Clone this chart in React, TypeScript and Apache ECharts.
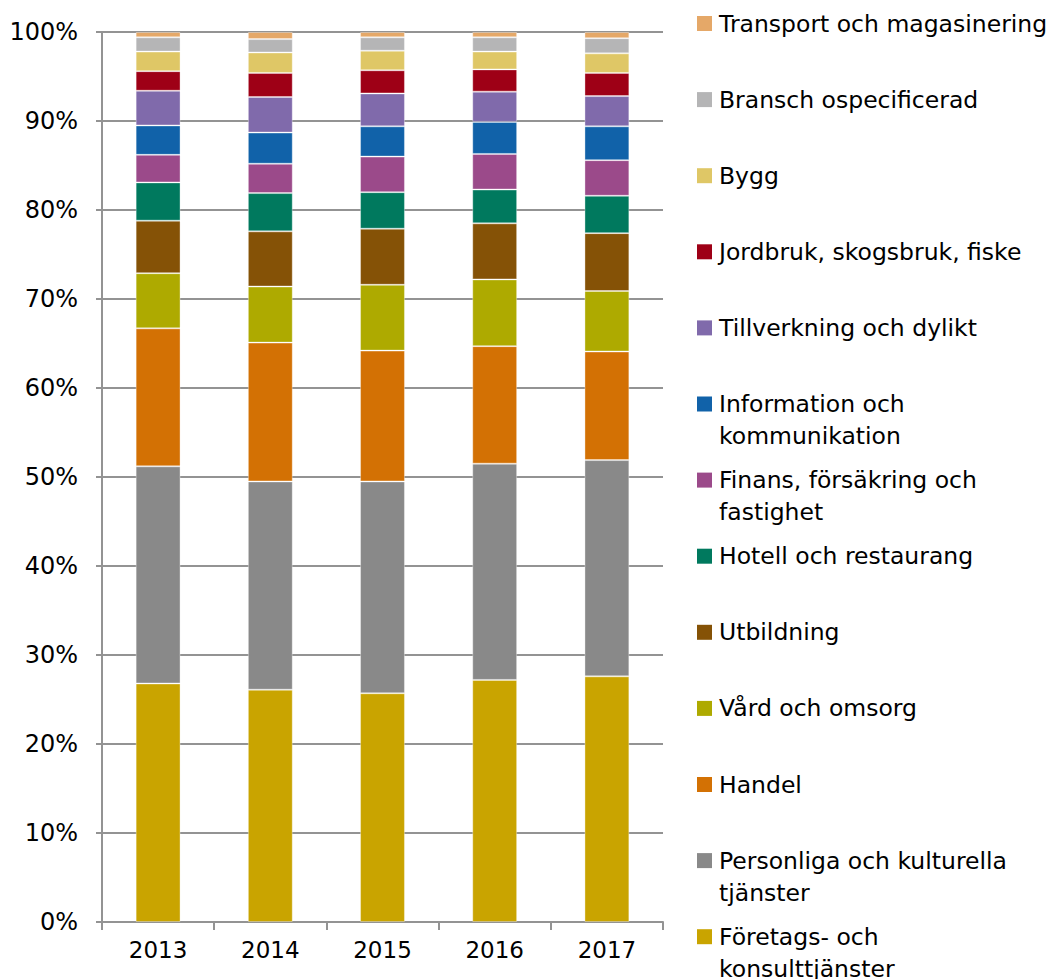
import React, { useEffect, useRef } from "react";
import * as echarts from "echarts";

// Categories
const years = ["2013", "2014", "2015", "2016", "2017"];

// Series (stacking order, bottom first)
const seriesNames = [
  "Företags- och konsulttjänster",
  "Personliga och kulturella tjänster",
  "Handel",
  "Vård och omsorg",
  "Utbildning",
  "Hotell och restaurang",
  "Finans, försäkring och fastighet",
  "Information och kommunikation",
  "Tillverkning och dylikt",
  "Jordbruk, skogsbruk, fiske",
  "Bygg",
  "Bransch ospecificerad",
  "Transport och magasinering",
];

const legendLabels = [
  "Företags- och\nkonsulttjänster",
  "Personliga och kulturella\ntjänster",
  "Handel",
  "Vård och omsorg",
  "Utbildning",
  "Hotell och restaurang",
  "Finans, försäkring och\nfastighet",
  "Information och\nkommunikation",
  "Tillverkning och dylikt",
  "Jordbruk, skogsbruk, fiske",
  "Bygg",
  "Bransch ospecificerad",
  "Transport och magasinering",
];

const colors = [
  "#C9A400",
  "#898989",
  "#D37104",
  "#AEAA00",
  "#855206",
  "#00795E",
  "#9B4A8A",
  "#1162A9",
  "#806AAB",
  "#9E0016",
  "#DFC766",
  "#B5B5B6",
  "#E5A868",
];

// Values (%)
const foretags = [26.8, 26.1, 25.7, 27.2, 27.6];
const personliga = [24.4, 23.4, 23.8, 24.3, 24.3];
const handel = [15.5, 15.6, 14.7, 13.2, 12.2];
const vard = [6.2, 6.3, 7.4, 7.5, 6.8];
const utbildning = [5.9, 6.2, 6.3, 6.3, 6.5];
const hotell = [4.3, 4.3, 4.1, 3.8, 4.2];
const finans = [3.1, 3.3, 4.0, 4.0, 4.0];
const information = [3.3, 3.5, 3.4, 3.6, 3.8];
const tillverkning = [3.9, 4.0, 3.7, 3.4, 3.4];
const jordbruk = [2.2, 2.7, 2.6, 2.5, 2.6];
const bygg = [2.2, 2.3, 2.2, 2.0, 2.2];
const bransch = [1.6, 1.5, 1.5, 1.6, 1.7];
const transport = [0.6, 0.8, 0.6, 0.6, 0.7];

const seriesValues = [
  foretags,
  personliga,
  handel,
  vard,
  utbildning,
  hotell,
  finans,
  information,
  tillverkning,
  jordbruk,
  bygg,
  bransch,
  transport,
];

const FONT = "DejaVu Sans";
const FS = 23;
const LFS = 23.5;

export default function App() {
  const ref = useRef<HTMLDivElement>(null);

  useEffect(() => {
    if (!ref.current) return;
    const chart = echarts.init(ref.current, undefined, { renderer: "svg" });

    const gridColor = "#939393";

    // Legend drawn top to bottom in reverse stacking order
    const legendChildren: any[] = [];
    const n = seriesNames.length;
    for (let k = 0; k < n; k++) {
      const i = n - 1 - k;
      const cy = 23.5 + k * 76.1;
      legendChildren.push({
        type: "rect",
        shape: { x: 697, y: cy - 7.5, width: 15, height: 15 },
        style: { fill: colors[i] },
      });
      legendChildren.push({
        type: "text",
        x: 719,
        y: cy - 16,
        style: {
          text: legendLabels[i],
          font: `${LFS}px "${FONT}"`,
          fill: "#000",
          lineHeight: 32,
          verticalAlign: "top",
          align: "left",
        },
      });
    }

    chart.setOption({
      animation: false,
      backgroundColor: "#fff",
      grid: { left: 102, right: 388, top: 32, bottom: 57, containLabel: false },
      xAxis: {
        type: "category",
        data: years,
        axisLine: { show: true, lineStyle: { color: gridColor, width: 2 } },
        axisTick: { show: true, length: 8, lineStyle: { color: gridColor, width: 2 } },
        axisLabel: {
          color: "#000",
          fontFamily: FONT,
          fontSize: FS,
          margin: 16,
        },
      },
      yAxis: {
        type: "value",
        min: 0,
        max: 100,
        interval: 10,
        axisLine: { show: true, lineStyle: { color: gridColor, width: 2 } },
        axisTick: { show: true, length: 6, lineStyle: { color: gridColor, width: 2 } },
        splitLine: { show: true, lineStyle: { color: gridColor, width: 2 } },
        axisLabel: {
          color: "#000",
          fontFamily: FONT,
          fontSize: 24,
          margin: 24,
          formatter: (v: number) => `${v}%`,
        },
      },
      series: seriesNames.map((name, i) => ({
        name,
        type: "bar",
        stack: "total",
        barWidth: "40%",
        data: seriesValues[i],
        itemStyle: {
          color: colors[i],
          borderColor: "rgba(255,255,255,0.35)",
          borderWidth: 1,
        },
      })),
      graphic: [{ type: "group", children: legendChildren }],
    });

    return () => chart.dispose();
  }, []);

  return (
    <div
      ref={ref}
      style={{ position: "fixed", left: 0, top: 0, width: 1051, height: 979 }}
    />
  );
}
